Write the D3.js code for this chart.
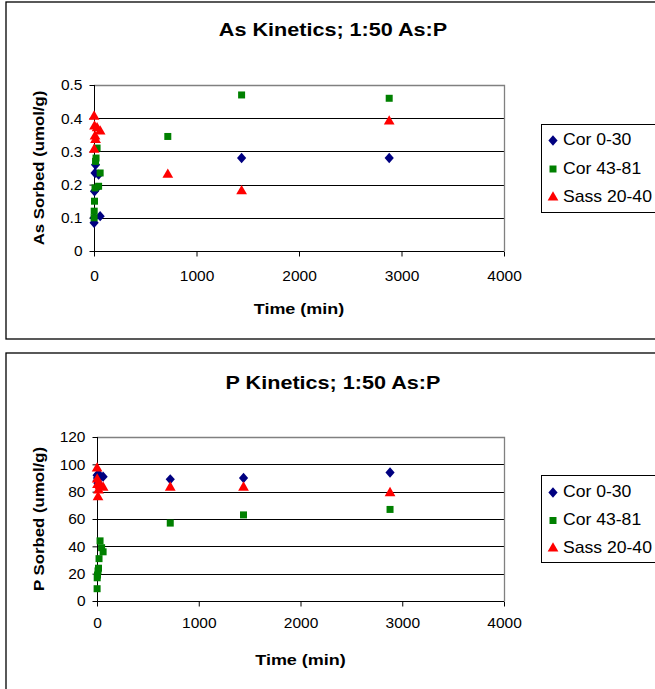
<!DOCTYPE html>
<html>
<head>
<meta charset="utf-8">
<script src="https://cdn.jsdelivr.net/npm/d3@7"></script>
<style>
body{margin:0;background:#fff;}
svg{display:block;font-family:"Liberation Sans",Arial,sans-serif;}
</style>
</head>
<body>
<svg id="c" width="655" height="689"></svg>
<script>
const seriesNames = ["Cor 0-30", "Cor 43-81", "Sass 20-40"];
const seriesColors = ["#000080", "#008000", "#FF0000"];
const xTicks = [0, 1000, 2000, 3000, 4000];

// As chart
const asTitle = "As Kinetics; 1:50 As:P";
const asYLabel = "As Sorbed (umol/g)";
const asYTicks = [0, 0.1, 0.2, 0.3, 0.4, 0.5];
const asCorT = [1, 2, 5, 10, 15, 30, 45, 60, 1440, 2880];
const asCorV = [0.085, 0.10, 0.18, 0.235, 0.26, 0.19, 0.23, 0.105, 0.28, 0.28];
const asCor2T = [1, 2, 5, 10, 15, 20, 30, 45, 60, 720, 1440, 2880];
const asCor2V = [0.10, 0.12, 0.15, 0.19, 0.27, 0.28, 0.31, 0.195, 0.235, 0.345, 0.47, 0.46];
const asSassT = [1, 2, 5, 10, 15, 30, 60, 720, 1440, 2880];
const asSassV = [0.405, 0.305, 0.375, 0.345, 0.335, 0.37, 0.36, 0.23, 0.18, 0.39];

// P chart
const pTitle = "P Kinetics; 1:50 As:P";
const pYLabel = "P Sorbed (umol/g)";
const pYTicks = [0, 20, 40, 60, 80, 100, 120];
const pCorT = [1, 2, 5, 10, 15, 30, 60, 720, 1440, 2880];
const pCorV = [92, 88, 90, 86, 93, 91, 91, 89, 90, 94];
const pCor2T = [1, 2, 5, 10, 15, 20, 30, 45, 60, 720, 1440, 2880];
const pCor2V = [9, 17, 19, 22, 24, 31, 44, 39, 36, 57, 63, 67];
const pSassT = [1, 2, 5, 10, 15, 30, 60, 720, 1440, 2880];
const pSassV = [97, 89, 85, 76, 81, 84, 83, 83, 83, 79];

const svg = d3.select("#c");

const diamond = { draw(ctx, size) { const w = 4.6, h = 5.2; ctx.moveTo(0, -h); ctx.lineTo(w, 0); ctx.lineTo(0, h); ctx.lineTo(-w, 0); ctx.closePath(); } };
const symTypes = [diamond, d3.symbolSquare, d3.symbolTriangle];
const symSizes = [1, 49, 50];

function stretchedText(parent, x, y, sx, str, attrs, rotate) {
  const g = parent.append("g").attr("transform", `translate(${x},${y})` + (rotate ? ` rotate(${rotate})` : "") + ` scale(${sx},1)`);
  const t = g.append("text").text(str);
  Object.entries(attrs).forEach(([k, v]) => t.attr(k, v));
  return t;
}

function drawChart(cfg) {
  const g = svg.append("g");
  g.append("rect").attr("x", cfg.frame[0]).attr("y", cfg.frame[1])
    .attr("width", cfg.frame[2]).attr("height", cfg.frame[3])
    .attr("fill", "#fff").attr("stroke", "#000").attr("stroke-width", 1.3);

  const x = d3.scaleLinear().domain([0, 4000]).range([cfg.x0, cfg.x1]);
  const y = d3.scaleLinear().domain([cfg.yTicks[0], cfg.yTicks[cfg.yTicks.length-1]]).range([cfg.y0, cfg.y1]);

  g.append("g").selectAll("line").data(cfg.yTicks.slice(1, -1)).join("line")
    .attr("x1", cfg.x0).attr("x2", cfg.x1)
    .attr("y1", d => Math.round(y(d)) + 0.5).attr("y2", d => Math.round(y(d)) + 0.5)
    .attr("stroke", "#000").attr("stroke-width", 1);
  g.append("path")
    .attr("d", `M${cfg.x0},${Math.round(cfg.y1)+0.5}H${cfg.x1+0.5}V${cfg.y0}`)
    .attr("fill", "none").attr("stroke", "#808080").attr("stroke-width", 1.3);

  const xAxis = d3.axisBottom(x).tickValues(xTicks).tickSize(5).tickPadding(cfg.xPad).tickFormat(d3.format("d"));
  const gx = g.append("g").attr("transform", `translate(0,${Math.round(cfg.y0)+0.5})`).call(xAxis);
  gx.select(".domain").attr("stroke", "#000").attr("d", `M${cfg.x0},0H${cfg.x1}`);
  gx.selectAll(".tick line").attr("stroke", "#000");
  gx.selectAll("text").attr("font-size", 15.5).attr("fill", "#000").attr("font-family", "Liberation Sans, Arial, sans-serif");

  const yAxis = d3.axisLeft(y).tickValues(cfg.yTicks).tickSize(5).tickPadding(7).tickFormat(cfg.fmt);
  const gy = g.append("g").attr("transform", `translate(${Math.round(cfg.x0)+0.5},0)`).call(yAxis);
  gy.select(".domain").attr("stroke", "#000").attr("d", `M0,${cfg.y1}V${cfg.y0}`);
  gy.selectAll(".tick line").attr("stroke", "#000");
  gy.selectAll("text").attr("font-size", 15.5).attr("fill", "#000").attr("font-family", "Liberation Sans, Arial, sans-serif");

  stretchedText(g, cfg.titleX, cfg.titleY, 1.2, cfg.title, {"text-anchor": "middle", "font-weight": "bold", "font-size": 18});
  stretchedText(g, (cfg.x0 + cfg.x1)/2, cfg.xlabY, 1.2, "Time (min)", {"text-anchor": "middle", "font-weight": "bold", "font-size": 15});
  stretchedText(g, cfg.ylabX, (cfg.y0+cfg.y1)/2, 1.12, cfg.ylab, {"text-anchor": "middle", "font-weight": "bold", "font-size": 15}, -90);

  [0, 1, 2].forEach(i => {
    const T = cfg.series[i][0], V = cfg.series[i][1];
    const pts = T.map((t, k) => [t, V[k]]);
    g.append("g").selectAll("path").data(pts).join("path")
      .attr("transform", d => `translate(${x(d[0])},${y(d[1])})`)
      .attr("d", d3.symbol().type(symTypes[i]).size(symSizes[i]))
      .attr("fill", seriesColors[i]);
  });

  const lg = g.append("g");
  lg.append("rect").attr("x", 541.5).attr("y", cfg.legY + 0.5).attr("width", 130).attr("height", cfg.legH)
    .attr("fill", "#fff").attr("stroke", "#000").attr("stroke-width", 1);
  seriesNames.forEach((n, i) => {
    const yy = cfg.legBase + i * cfg.legStep;
    lg.append("path").attr("transform", `translate(553,${yy - 4.5})`)
      .attr("d", d3.symbol().type(symTypes[i]).size(symSizes[i])).attr("fill", seriesColors[i]);
    stretchedText(lg, 563, yy, 1.1, n, {"font-size": 16});
  });
}

drawChart({
  frame: [6, 2, 660, 337],
  x0: 94, x1: 504, y0: 251, y1: 85, xPad: 13,
  yTicks: asYTicks, fmt: d3.format(".1~f"),
  title: asTitle, titleX: 333, titleY: 36,
  xlabY: 314, ylab: asYLabel, ylabX: 43.5,
  legY: 124, legH: 88, legBase: 145, legStep: 28.5,
  series: [[asCorT, asCorV], [asCor2T, asCor2V], [asSassT, asSassV]]
});
drawChart({
  frame: [6, 353, 660, 345],
  x0: 97, x1: 504, y0: 601, y1: 437, xPad: 10,
  yTicks: pYTicks, fmt: d3.format("d"),
  title: pTitle, titleX: 333, titleY: 389,
  xlabY: 665, ylab: pYLabel, ylabX: 43.5,
  legY: 475, legH: 87, legBase: 497, legStep: 28,
  series: [[pCorT, pCorV], [pCor2T, pCor2V], [pSassT, pSassV]]
});
</script>
</body>
</html>
